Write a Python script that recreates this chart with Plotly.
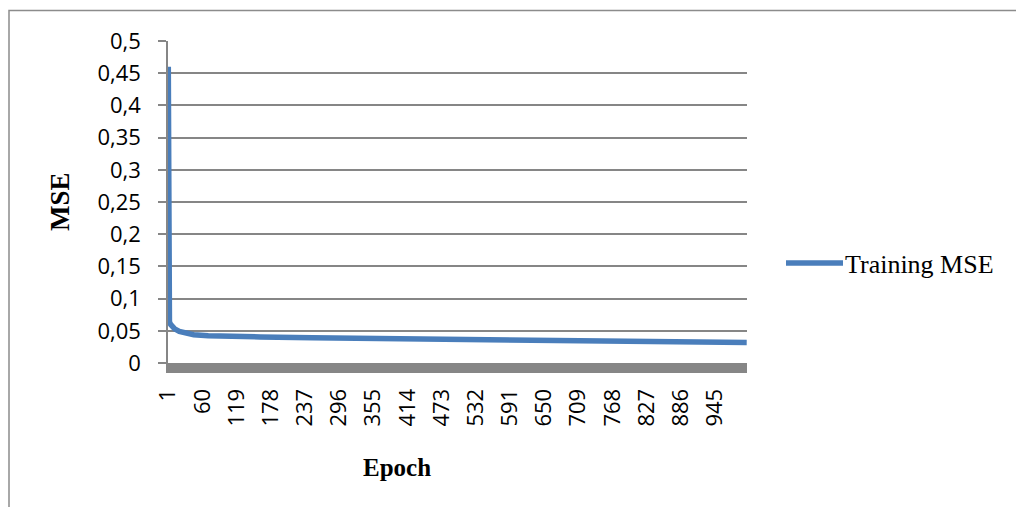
import plotly.graph_objects as go

# Training curve: mean squared error per epoch
epochs = [1, 2, 3, 5, 8, 12, 20, 30, 45, 70, 100, 160, 250, 350, 450, 550, 650, 750, 850, 1000]
mse = [0.46, 0.075, 0.064, 0.060, 0.056, 0.053, 0.049, 0.0465, 0.044, 0.0425,
       0.0415, 0.0405, 0.0392, 0.038, 0.037, 0.036, 0.035, 0.034, 0.033, 0.0318]

x_ticks = [1, 60, 119, 178, 237, 296, 355, 414, 473, 532, 591, 650, 709, 768, 827, 886, 945]
y_ticks = [0, 0.05, 0.1, 0.15, 0.2, 0.25, 0.3, 0.35, 0.4, 0.45, 0.5]
y_labels = ["0", "0,05", "0,1", "0,15", "0,2", "0,25", "0,3", "0,35", "0,4", "0,45", "0,5"]

series_name = "Training MSE"
line_color = "#4A7EBB"
grid_color = "#868686"

W, H = 1016, 507
L, R, T, B = 168, 269, 41, 144
pw, ph = W - L - R, H - T - B


def px_x(p):
    return (p - L) / pw


def px_y(p):
    return (H - B - p) / ph


fig = go.Figure()
fig.add_trace(go.Scatter(
    x=epochs, y=mse, mode="lines", name=series_name,
    line=dict(color=line_color, width=5.5), showlegend=False,
))

fig.update_layout(
    width=W, height=H,
    margin=dict(l=L, r=R, t=T, b=B),
    paper_bgcolor="white", plot_bgcolor="white",
    font=dict(family="Open Sans", size=22, color="black"),
    xaxis=dict(
        range=[0.5, 1000.5], tickvals=x_ticks, ticktext=[str(v) for v in x_ticks],
        tickangle=-90, showgrid=False, zeroline=False,
        showline=True, linecolor=grid_color, linewidth=10,
        ticks="", ticklabelstandoff=7,
    ),
    yaxis=dict(
        range=[0, 0.5], tickvals=y_ticks, ticktext=y_labels,
        showgrid=True, gridcolor=grid_color, gridwidth=1.5, zeroline=False,
        showline=True, linecolor=grid_color, linewidth=1.5,
        ticks="outside", ticklen=8, tickcolor=grid_color, tickwidth=1.5,
        ticklabelstandoff=13,
    ),
    shapes=[
        # chart frame
        dict(type="rect", xref="paper", yref="paper",
             x0=px_x(9), x1=px_x(1030), y0=px_y(530), y1=px_y(10.5),
             line=dict(color="#8C8C8C", width=1.5), layer="below"),
        # legend key line
        dict(type="line", xref="paper", yref="paper",
             x0=px_x(786), x1=px_x(843), y0=px_y(263), y1=px_y(263),
             line=dict(color=line_color, width=5.5)),
    ],
    annotations=[
        dict(text="<b>Epoch</b>", xref="paper", yref="paper",
             x=px_x(397), y=px_y(467), xanchor="center", yanchor="middle",
             showarrow=False, font=dict(family="Liberation Serif", size=25)),
        dict(text="<b>MSE</b>", xref="paper", yref="paper",
             x=px_x(60), y=px_y(202), xanchor="center", yanchor="middle",
             showarrow=False, textangle=-90,
             font=dict(family="Liberation Serif", size=27)),
        dict(text=series_name, xref="paper", yref="paper",
             x=px_x(843), y=px_y(264), xanchor="left", yanchor="middle",
             showarrow=False, font=dict(family="Liberation Serif", size=26)),
    ],
)

fig.write_html("out.html")
